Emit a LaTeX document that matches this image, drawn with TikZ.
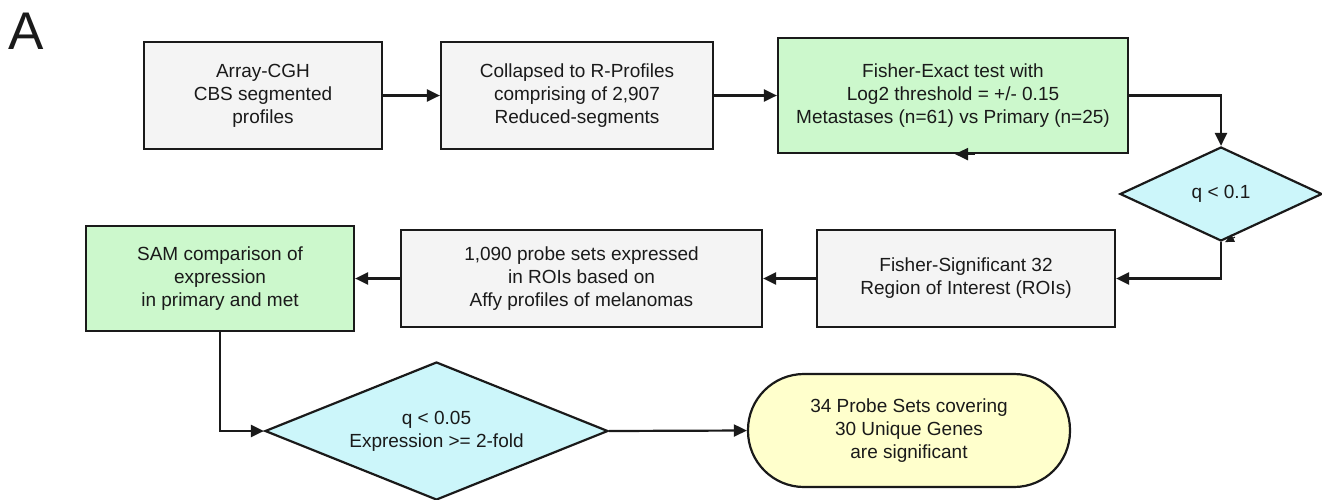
\documentclass[tikz,border=0pt]{standalone}
\usepackage{fontspec}
\setmainfont{Liberation Sans}
\usetikzlibrary{arrows.meta,shapes.geometric}
\definecolor{boxgray}{HTML}{F4F4F4}
\definecolor{boxgreen}{HTML}{CCF8CC}
\definecolor{boxcyan}{HTML}{CCF6FA}
\definecolor{boxyellow}{HTML}{FFFFCC}
\definecolor{ink}{HTML}{1A1A1A}
\begin{document}
\begin{tikzpicture}[x=1pt,y=-1pt,
  every node/.style={font=\fontsize{19}{23}\selectfont, text=ink, align=center, inner sep=0pt},
  proc/.style={draw=ink, line width=2.2pt, rectangle},
  graybox/.style={proc, fill=boxgray},
  greenbox/.style={proc, fill=boxgreen},
  decision/.style={draw=ink, line width=2.2pt, diamond, fill=boxcyan, inner sep=0pt},
  terminal/.style={draw=ink, line width=2.2pt, rectangle, rounded corners=56pt, fill=boxyellow},
  conn/.style={draw=ink, line width=2.2pt, -{Triangle[length=13pt,width=12pt]}},
  line/.style={draw=ink, line width=2.2pt}
]
\useasboundingbox (0,0) rectangle (1322,499);

\node[font=\fontsize{53}{53}\selectfont] (lab) at (26,31) {A};

\node[graybox, minimum width=238pt, minimum height=107pt] (b1) at (263,95.5)
  {Array-CGH\\CBS segmented\\profiles};
\node[graybox, minimum width=272pt, minimum height=107pt] (b2) at (577,95.5)
  {Collapsed to R-Profiles\\comprising of 2,907\\Reduced-segments};
\node[greenbox, minimum width=350pt, minimum height=115pt] (b3) at (953,95.5)
  {Fisher-Exact test with\\Log2 threshold = +/- 0.15\\Metastases (n=61) vs Primary (n=25)};
\node[decision, aspect=2.15, minimum width=202pt, minimum height=94pt] (d1) at (1221,194) {q < 0.1};
\node[graybox, minimum width=298pt, minimum height=97pt] (b4) at (966,278.5)
  {Fisher-Significant 32\\Region of Interest (ROIs)};
\node[graybox, minimum width=361pt, minimum height=97pt] (b5) at (581.5,278.5)
  {1,090 probe sets expressed\\in ROIs based on\\Affy profiles of melanomas};
\node[greenbox, minimum width=268pt, minimum height=105pt] (b6) at (220,278.5)
  {SAM comparison of\\expression\\in primary and met};
\node[decision, aspect=2.49, minimum width=343pt, minimum height=138pt] (d2) at (436.5,431)
  {q < 0.05\\Expression >= 2-fold};
\node[terminal, minimum width=322pt, minimum height=113pt] (t) at (909,430.5)
  {34 Probe Sets covering\\30 Unique Genes\\are significant};

\coordinate (s1a) at ([xshift=22pt]b3.south);
\coordinate (s1b) at ([xshift=2pt]b3.south);
\coordinate (s2a) at ([xshift=14pt,yshift=5pt]d1.south);
\coordinate (s2b) at ([xshift=4pt,yshift=0pt]d1.south);

\path[conn] (b1.east) -- (b2.west);
\path[conn] (b2.east) -- (b3.west);
\path[conn] (b3.east) -| (d1.north);
\path[conn] (d1.south) |- (b4.east);
\path[conn] (b4.west) -- (b5.east);
\path[conn] (b5.west) -- (b6.east);
\path[conn] (b6.south) |- (d2.west);
\path[conn] (d2.east) -- (t.west);
\path[conn] (s1a) -- (s1b);
\path[draw=ink, line width=1pt, -{Triangle[length=9pt,width=8pt]}] (s2a) -- (s2b);
\end{tikzpicture}
\end{document}
